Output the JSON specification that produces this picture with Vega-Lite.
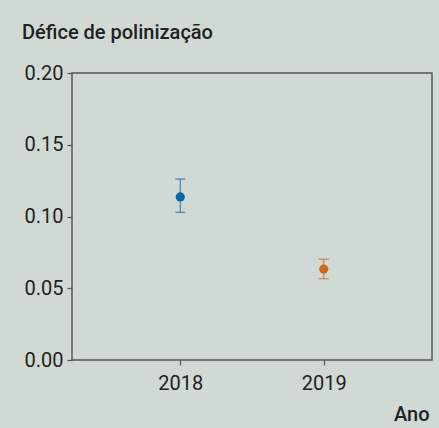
{
  "$schema": "https://vega.github.io/schema/vega-lite/v6.json",
  "width": 360,
  "height": 287,
  "autosize": {"type": "none"},
  "padding": {"left": 72, "top": 73, "right": 7, "bottom": 68},
  "background": "#d1d9d4",
  "title": {
    "text": "Défice de polinização",
    "anchor": "start",
    "frame": "group",
    "dx": -50,
    "offset": 20,
    "fontSize": 20,
    "fontWeight": 500,
    "font": "Roboto",
    "color": "#222222"
  },
  "data": {
    "values": [
      {"Ano": "2018", "deficit": 0.1136, "lo": 0.1029, "hi": 0.1261},
      {"Ano": "2019", "deficit": 0.0634, "lo": 0.0567, "hi": 0.0702}
    ]
  },
  "encoding": {
    "x": {
      "field": "Ano",
      "type": "ordinal",
      "scale": {"type": "point", "padding": 0.755},
      "axis": {
        "title": "Ano",
        "labelAngle": 0,
        "labelPadding": 8,
        "titleAnchor": "end",
        "titleAlign": "right",
        "titleX": 357,
        "titlePadding": 11
      }
    },
    "color": {
      "field": "Ano",
      "type": "nominal",
      "scale": {"domain": ["2018", "2019"], "range": ["#0b69a3", "#cc6a1c"]},
      "legend": null
    }
  },
  "layer": [
    {
      "mark": {
        "type": "errorbar",
        "thickness": 1.5,
        "rule": {"opacity": 0.6},
        "ticks": {"size": 10, "opacity": 0.6}
      },
      "encoding": {
        "y": {"field": "lo", "type": "quantitative", "scale": {"domain": [0, 0.2]}},
        "y2": {"field": "hi"}
      }
    },
    {
      "mark": {"type": "point", "filled": true, "size": 85, "opacity": 1},
      "encoding": {
        "y": {
          "field": "deficit",
          "type": "quantitative",
          "scale": {"domain": [0, 0.2]},
          "axis": {"title": null, "values": [0, 0.05, 0.1, 0.15, 0.2], "format": ".2f"}
        }
      }
    }
  ],
  "config": {
    "view": {"stroke": "#555555", "strokeWidth": 1.5},
    "axis": {
      "grid": false,
      "domain": false,
      "tickColor": "#555555",
      "tickSize": 5,
      "tickWidth": 1.2,
      "labelFont": "Roboto",
      "labelFontSize": 20,
      "labelColor": "#222222",
      "labelPadding": 4,
      "titleFont": "Roboto",
      "titleFontSize": 20,
      "titleFontWeight": 500,
      "titleColor": "#222222"
    }
  }
}
